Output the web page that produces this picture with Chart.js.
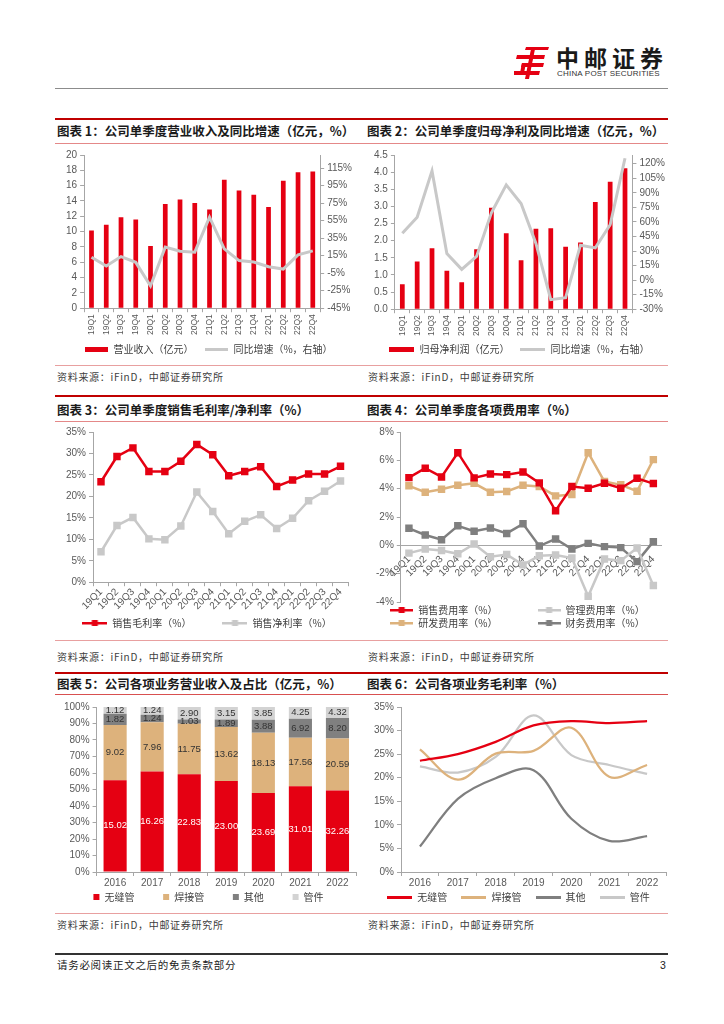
<!DOCTYPE html>
<html lang="zh-CN">
<head>
<meta charset="utf-8">
<title>中邮证券</title>
<script src="https://cdn.jsdelivr.net/npm/chart.js@4.4.0/dist/chart.umd.min.js"></script>
<style>
  body { margin: 0; background: #fff; width: 724px; height: 1024px; position: relative; overflow: hidden; font-family: "Noto Sans CJK SC", sans-serif; }
  .linha { position: absolute; left: 55px; width: 613px; }
  .titulo { position: absolute; font-size: 12.5px; font-weight: bold; color: #1a1a1a; white-space: nowrap; line-height: 16px; }
  .fonte { position: absolute; font-size: 10px; color: #404040; white-space: nowrap; letter-spacing: 0.7px; line-height: 14px; }
  .grafico { position: absolute; }
</style>
</head>
<body>

<!-- cabecalho -->
<svg style="position:absolute;left:514px;top:46px" width="36" height="34" viewBox="0 0 36 34">
  <g fill="#E50012">
    <polygon points="12,1 35,1 34,4 11,4"/>
    <polygon points="3,9 31,9 30,13 2,13"/>
    <polygon points="8,17 30,17 29,21 7,21"/>
    <polygon points="0,25 26,25 25,29 0,29"/>
    <polygon points="17,3 21,3 15,33 11,33"/>
    <polygon points="8,17 12,17 10,27 6,27"/>
  </g>
</svg>
<div style="position:absolute;left:556px;top:44px;font-size:23px;font-weight:bold;letter-spacing:5px;color:#1a1a1a;line-height:26px">中邮证券</div>
<div style="position:absolute;left:557px;top:69px;font-size:8px;font-family:'Liberation Sans',Arial,sans-serif;color:#333;letter-spacing:0.2px;line-height:10px">CHINA POST SECURITIES</div>
<div class="linha" style="top:88px;height:1px;background:#8c8c8c"></div>

<!-- linha 1 -->
<div class="linha" style="top:118px;height:2px;background:#C00000"></div>
<div class="titulo" style="left:57px;top:123px">图表 1：公司单季度营业收入及同比增速（亿元，%）</div>
<div class="titulo" style="left:367px;top:123px">图表 2：公司单季度归母净利及同比增速（亿元，%）</div>
<div class="linha" style="top:143px;height:1px;background:#E48888"></div>
<div class="grafico" style="left:55px;top:146px;width:300px;height:218px"><canvas id="grafico1"></canvas></div>
<div class="grafico" style="left:365px;top:146px;width:303px;height:218px"><canvas id="grafico2"></canvas></div>
<div class="linha" style="top:365px;height:1px;background:#E8A0A0"></div>
<div class="fonte" style="left:57px;top:370px">资料来源：iFinD，中邮证券研究所</div>
<div class="fonte" style="left:368px;top:370px">资料来源：iFinD，中邮证券研究所</div>

<!-- linha 2 -->
<div class="linha" style="top:395px;height:2px;background:#C00000"></div>
<div class="titulo" style="left:57px;top:402px">图表 3：公司单季度销售毛利率/净利率（%）</div>
<div class="titulo" style="left:367px;top:402px">图表 4：公司单季度各项费用率（%）</div>
<div class="linha" style="top:421px;height:1px;background:#E48888"></div>
<div class="grafico" style="left:55px;top:423px;width:300px;height:215px"><canvas id="grafico3"></canvas></div>
<div class="grafico" style="left:365px;top:423px;width:303px;height:215px"><canvas id="grafico4"></canvas></div>
<div class="linha" style="top:640px;height:1px;background:#E8A0A0"></div>
<div class="fonte" style="left:57px;top:650px">资料来源：iFinD，中邮证券研究所</div>
<div class="fonte" style="left:368px;top:650px">资料来源：iFinD，中邮证券研究所</div>

<!-- linha 3 -->
<div class="linha" style="top:672px;height:2px;background:#C00000"></div>
<div class="titulo" style="left:57px;top:676px">图表 5：公司各项业务营业收入及占比（亿元，%）</div>
<div class="titulo" style="left:367px;top:676px">图表 6：公司各项业务毛利率（%）</div>
<div class="linha" style="top:694px;height:1px;background:#D85050"></div>
<div class="grafico" style="left:55px;top:698px;width:303px;height:214px"><canvas id="grafico5"></canvas></div>
<div class="grafico" style="left:365px;top:698px;width:303px;height:214px"><canvas id="grafico6"></canvas></div>
<div class="linha" style="top:913px;height:1px;background:#E8A0A0"></div>
<div class="fonte" style="left:57px;top:918px">资料来源：iFinD，中邮证券研究所</div>
<div class="fonte" style="left:368px;top:918px">资料来源：iFinD，中邮证券研究所</div>

<!-- rodape -->
<div class="linha" style="top:953px;height:1.5px;background:#333"></div>
<div class="fonte" style="left:57px;top:958px;font-size:10.5px;color:#222">请务必阅读正文之后的免责条款部分</div>
<div class="fonte" style="left:660px;top:958px;font-size:10.5px;color:#222;font-family:'Liberation Sans',Arial,sans-serif">3</div>

<script>
// categorias
const trimestres = ["19Q1", "19Q2", "19Q3", "19Q4", "20Q1", "20Q2", "20Q3", "20Q4", "21Q1", "21Q2", "21Q3", "21Q4", "22Q1", "22Q2", "22Q3", "22Q4"];
const anos = ["2016", "2017", "2018", "2019", "2020", "2021", "2022"];

// grafico 1 - receita (亿元) e crescimento (%)
const receita = [10.15, 10.9, 11.88, 11.57, 8.12, 13.6, 14.2, 13.73, 12.9, 16.78, 15.36, 14.8, 13.2, 16.64, 17.75, 17.84];
const receitaYoY = [13.2, 3.2, 14, 7.4, -19.6, 24.8, 20.1, 19, 59, 22.8, 9.4, 7.8, 2.4, -0.3, 15.9, 20.5];
const ticksYoY1 = [-45, -25, -5, 15, 35, 55, 75, 95, 115];

// grafico 2 - lucro liquido (亿元) e crescimento (%)
const lucro = [0.73, 1.39, 1.78, 1.12, 0.79, 1.75, 2.96, 2.22, 1.43, 2.35, 2.36, 1.82, 1.95, 3.13, 3.72, 4.11];
const lucroYoY = [48.3, 64.8, 112.6, 27.3, 11.1, 24.4, 69.4, 98.2, 78.9, 37.8, -20.2, -18.1, 36, 33.2, 57.1, 125.6];
const ticksYoY2 = [-30, -15, 0, 15, 30, 45, 60, 75, 90, 105, 120];

// grafico 3 - margens (%)
const margemBruta = [23.4, 29.3, 31.3, 25.8, 25.8, 28.2, 32.1, 29.7, 24.8, 25.8, 26.9, 22.3, 23.8, 25.2, 25.2, 27.0];
const margemLiquida = [7.1, 13.2, 15.1, 10.1, 9.9, 13.1, 21.0, 16.5, 11.3, 14.2, 15.7, 12.5, 14.9, 19.0, 21.2, 23.6];

// grafico 4 - despesas (%)
const despVendas = [4.78, 5.44, 4.83, 6.54, 4.76, 5.04, 4.99, 5.18, 4.41, 2.44, 4.15, 4.03, 4.38, 4.03, 4.73, 4.36];
const despAdm = [-0.55, -0.26, -0.37, -0.6, 0.1, -0.8, -0.65, -1.38, -0.73, -0.68, -0.9, -3.6, -0.96, -1.08, -0.19, -2.84];
const despPD = [4.2, 3.75, 3.96, 4.24, 4.38, 3.75, 3.8, 4.24, 4.15, 3.49, 3.59, 6.54, 4.5, 4.27, 3.82, 6.05];
const despFin = [1.2, 0.73, 0.4, 1.38, 1.0, 1.22, 0.84, 1.52, -0.05, 0.45, -0.26, 0.14, -0.09, -0.16, -1.15, 0.26];

// grafico 5 - receita por negocio (亿元)
const semCostura = [15.02, 16.26, 22.83, 23.00, 23.69, 31.01, 32.26];
const soldado = [9.02, 7.96, 11.75, 13.62, 18.13, 17.56, 20.59];
const outros = [1.82, 1.24, 1.03, 1.89, 3.88, 6.92, 8.20];
const conexoes = [1.12, 1.24, 2.90, 3.15, 3.85, 4.25, 4.32];

// grafico 6 - margem bruta por negocio (%)
const margemSemCostura = [23.6, 25.0, 27.6, 31.1, 32.0, 31.6, 32.0];
const margemSoldado = [26.0, 19.6, 25.1, 25.7, 30.6, 20.2, 22.7];
const margemOutros = [5.4, 15.5, 19.9, 21.6, 11.3, 6.6, 7.6];
const margemConexoes = [22.4, 21.1, 24.4, 33.2, 24.8, 22.7, 20.8];

const vermelho = "#E50012";
const cinzaClaro = "#C8C8C8";
const cinzaEscuro = "#7F7F7F";
const bege = "#DDB27C";
const corEixo = "#A6A6A6";
const esp = "\u3000"; // espaco entre itens da legenda

Chart.defaults.font.family = "'Liberation Sans', Arial, sans-serif";
Chart.defaults.font.size = 10;
Chart.defaults.color = "#595959";
Chart.defaults.animation = false;
Chart.defaults.plugins.tooltip.enabled = false;

const fonteLegenda = { family: "'Noto Sans CJK SC', sans-serif", size: 10 };

// icones da legenda
function criarIcone(tipo, cor, largura) {
  const c = document.createElement("canvas");
  c.width = largura;
  c.height = 8;
  const ctx = c.getContext("2d");
  ctx.fillStyle = cor;
  if (tipo == "barra") {
    ctx.fillRect(0, 2, largura, 5);
  } else if (tipo == "linha") {
    ctx.fillRect(0, 3, largura, 3);
  } else {
    ctx.fillRect(0, 3, largura, 2.5);
    ctx.fillRect(largura / 2 - 3, 1, 6, 6);
  }
  return c;
}

function legenda(icones, espaco) {
  return {
    position: "bottom",
    labels: {
      usePointStyle: true,
      pointStyleWidth: icones[0].width,
      padding: espaco,
      color: "#404040",
      font: fonteLegenda,
      sort: function (a, b) { return a.datasetIndex - b.datasetIndex; },
      generateLabels: function (chart) {
        const itens = Chart.defaults.plugins.legend.labels.generateLabels(chart);
        itens.forEach(function (it) { it.pointStyle = icones[it.datasetIndex]; });
        return itens;
      }
    }
  };
}

function grade(deslocar) {
  return { display: true, drawOnChartArea: false, drawTicks: true, tickLength: 4, color: corEixo, offset: deslocar };
}
const borda = { display: true, color: corEixo };

function porcento(v) { return v + "%"; }

// grafico 1
const grafico1 = new Chart(document.getElementById("grafico1"), {
  data: {
    labels: trimestres,
    datasets: [
      { type: "bar", label: "营业收入（亿元）" + esp, data: receita, yAxisID: "y", backgroundColor: vermelho, barPercentage: 0.4, categoryPercentage: 0.8, order: 1 },
      { type: "line", label: "同比增速（%，右轴）", data: receitaYoY, yAxisID: "y2", borderColor: cinzaClaro, borderWidth: 3, pointRadius: 0, order: 0 }
    ]
  },
  options: {
    responsive: true,
    maintainAspectRatio: false,
    layout: { padding: { left: 8, right: 0, top: 7, bottom: 0 } },
    plugins: { legend: legenda([criarIcone("barra", vermelho, 23), criarIcone("linha", cinzaClaro, 23)], 7) },
    scales: {
      x: { grid: grade(true), border: borda, ticks: { minRotation: 90, maxRotation: 90, autoSkip: false, font: { size: 8.5 }, padding: 2 } },
      y: { position: "left", min: 0, max: 20, grid: grade(false), border: borda, ticks: { stepSize: 2, autoSkip: false } },
      y2: {
        position: "right", min: -45, max: 130, grid: grade(false), border: borda,
        ticks: { autoSkip: false, callback: porcento },
        afterBuildTicks: function (escala) { escala.ticks = ticksYoY1.map(function (v) { return { value: v }; }); }
      }
    }
  }
});

// grafico 2
const grafico2 = new Chart(document.getElementById("grafico2"), {
  data: {
    labels: trimestres,
    datasets: [
      { type: "bar", label: "归母净利润（亿元）" + esp, data: lucro, yAxisID: "y", backgroundColor: vermelho, barPercentage: 0.4, categoryPercentage: 0.8, order: 1 },
      { type: "line", label: "同比增速（%，右轴）", data: lucroYoY, yAxisID: "y2", borderColor: cinzaClaro, borderWidth: 3, pointRadius: 0, order: 0 }
    ]
  },
  options: {
    responsive: true,
    maintainAspectRatio: false,
    layout: { padding: { left: 6, right: 0, top: 7, bottom: 0 } },
    plugins: { legend: legenda([criarIcone("barra", vermelho, 25), criarIcone("linha", cinzaClaro, 25)], 6) },
    scales: {
      x: { grid: grade(true), border: borda, ticks: { minRotation: 90, maxRotation: 90, autoSkip: false, font: { size: 8.5 }, padding: 2 } },
      y: { position: "left", min: 0, max: 4.5, grid: grade(false), border: borda, ticks: { stepSize: 0.5, autoSkip: false, callback: function (v) { return v.toFixed(1); } } },
      y2: {
        position: "right", min: -30, max: 129, grid: grade(false), border: borda,
        ticks: { autoSkip: false, callback: porcento },
        afterBuildTicks: function (escala) { escala.ticks = ticksYoY2.map(function (v) { return { value: v }; }); }
      }
    }
  }
});

// grafico 3
const grafico3 = new Chart(document.getElementById("grafico3"), {
  type: "line",
  data: {
    labels: trimestres,
    datasets: [
      { label: "销售毛利率（%）" + esp + esp + esp, data: margemBruta, borderColor: vermelho, backgroundColor: vermelho, borderWidth: 2.5, pointStyle: "rect", pointRadius: 3.5 },
      { label: "销售净利率（%）", data: margemLiquida, borderColor: cinzaClaro, backgroundColor: cinzaClaro, borderWidth: 2.5, pointStyle: "rect", pointRadius: 3.5 }
    ]
  },
  options: {
    responsive: true,
    maintainAspectRatio: false,
    layout: { padding: { left: 8, right: 4, top: 5, bottom: 0 } },
    plugins: { legend: legenda([criarIcone("marcador", vermelho, 25), criarIcone("marcador", cinzaClaro, 25)], 6) },
    scales: {
      x: { offset: true, grid: grade(true), border: borda, ticks: { minRotation: 45, maxRotation: 45, autoSkip: false, padding: 0 } },
      y: { min: 0, max: 35, grid: grade(false), border: borda, ticks: { stepSize: 5, autoSkip: false, callback: porcento } }
    }
  }
});

// grafico 4
const iconesDespesa = [
  criarIcone("marcador", vermelho, 23),
  criarIcone("marcador", cinzaClaro, 23),
  criarIcone("marcador", bege, 23),
  criarIcone("marcador", cinzaEscuro, 23)
];
const grafico4 = new Chart(document.getElementById("grafico4"), {
  type: "line",
  data: {
    labels: trimestres,
    datasets: [
      { label: "销售费用率（%）" + esp + esp + esp + esp + " ", data: despVendas, borderColor: vermelho, backgroundColor: vermelho, borderWidth: 2.5, pointStyle: "rect", pointRadius: 3.5 },
      { label: "管理费用率（%）", data: despAdm, borderColor: cinzaClaro, backgroundColor: cinzaClaro, borderWidth: 2.5, pointStyle: "rect", pointRadius: 3.5 },
      { label: "研发费用率（%）" + esp + esp + esp + esp + " ", data: despPD, borderColor: bege, backgroundColor: bege, borderWidth: 2.5, pointStyle: "rect", pointRadius: 3.5 },
      { label: "财务费用率（%）", data: despFin, borderColor: cinzaEscuro, backgroundColor: cinzaEscuro, borderWidth: 2.5, pointStyle: "rect", pointRadius: 3.5 }
    ]
  },
  options: {
    responsive: true,
    maintainAspectRatio: false,
    layout: { padding: { left: 8, right: 6, top: 5, bottom: 0 } },
    plugins: { legend: legenda(iconesDespesa, 3) },
    scales: {
      x: { position: { y: 0 }, offset: true, grid: { display: false }, border: borda, ticks: { minRotation: 45, maxRotation: 45, autoSkip: false, padding: 0 } },
      y: { min: -4, max: 8, grid: grade(false), border: borda, ticks: { stepSize: 2, autoSkip: false, callback: porcento } }
    }
  }
});

// rotulos do grafico 5
const rotulosPlugin = {
  id: "rotulos",
  afterDatasetsDraw: function (chart) {
    const ctx = chart.ctx;
    ctx.save();
    ctx.font = "9.5px 'Liberation Sans', Arial, sans-serif";
    ctx.textAlign = "center";
    ctx.textBaseline = "middle";
    chart.data.datasets.forEach(function (ds, i) {
      const meta = chart.getDatasetMeta(i);
      meta.data.forEach(function (barra, j) {
        ctx.fillStyle = i == 0 ? "#ffffff" : "#333333";
        ctx.fillText(ds.valores[j].toFixed(2), barra.x, (barra.y + barra.base) / 2);
      });
    });
    ctx.restore();
  }
};

// participacao de cada negocio
function participacao(serie) {
  return serie.map(function (v, i) {
    return v / (semCostura[i] + soldado[i] + outros[i] + conexoes[i]) * 100;
  });
}

// grafico 5
const grafico5 = new Chart(document.getElementById("grafico5"), {
  type: "bar",
  data: {
    labels: anos,
    datasets: [
      { label: "无缝管" + esp + esp + "   ", data: participacao(semCostura), valores: semCostura, backgroundColor: vermelho },
      { label: "焊接管" + esp + esp + "   ", data: participacao(soldado), valores: soldado, backgroundColor: bege },
      { label: "其他" + esp + esp + "   ", data: participacao(outros), valores: outros, backgroundColor: "#808080" },
      { label: "管件", data: participacao(conexoes), valores: conexoes, backgroundColor: "#D3D3D3" }
    ]
  },
  plugins: [rotulosPlugin],
  options: {
    responsive: true,
    maintainAspectRatio: false,
    barPercentage: 0.78,
    categoryPercentage: 0.8,
    layout: { padding: { left: 6, right: 2, top: 5, bottom: 0 } },
    plugins: {
      legend: { position: "bottom", labels: { boxWidth: 6, boxHeight: 6, padding: 2, color: "#404040", font: fonteLegenda } }
    },
    scales: {
      x: { stacked: true, grid: grade(true), border: borda, ticks: { padding: 1 } },
      y: { stacked: true, min: 0, max: 100, grid: grade(false), border: borda, ticks: { stepSize: 10, autoSkip: false, callback: porcento } }
    }
  }
});

// grafico 6
const grafico6 = new Chart(document.getElementById("grafico6"), {
  type: "line",
  data: {
    labels: anos,
    datasets: [
      { label: "无缝管" + esp + " ", data: margemSemCostura, borderColor: vermelho, borderWidth: 2.25, pointRadius: 0, tension: 0.35 },
      { label: "焊接管" + esp + " ", data: margemSoldado, borderColor: bege, borderWidth: 2.25, pointRadius: 0, tension: 0.35 },
      { label: "其他" + esp + " ", data: margemOutros, borderColor: cinzaEscuro, borderWidth: 2.25, pointRadius: 0, tension: 0.35 },
      { label: "管件", data: margemConexoes, borderColor: cinzaClaro, borderWidth: 2.25, pointRadius: 0, tension: 0.35 }
    ]
  },
  options: {
    responsive: true,
    maintainAspectRatio: false,
    layout: { padding: { left: 6, right: 2, top: 5, bottom: 0 } },
    plugins: {
      legend: legenda([
        criarIcone("linha", vermelho, 25),
        criarIcone("linha", bege, 25),
        criarIcone("linha", cinzaEscuro, 25),
        criarIcone("linha", cinzaClaro, 25)
      ], 2)
    },
    scales: {
      x: { offset: true, grid: grade(true), border: borda, ticks: { padding: 1 } },
      y: { min: 0, max: 35, grid: grade(false), border: borda, ticks: { stepSize: 5, autoSkip: false, callback: porcento } }
    }
  }
});
</script>
</body>
</html>
